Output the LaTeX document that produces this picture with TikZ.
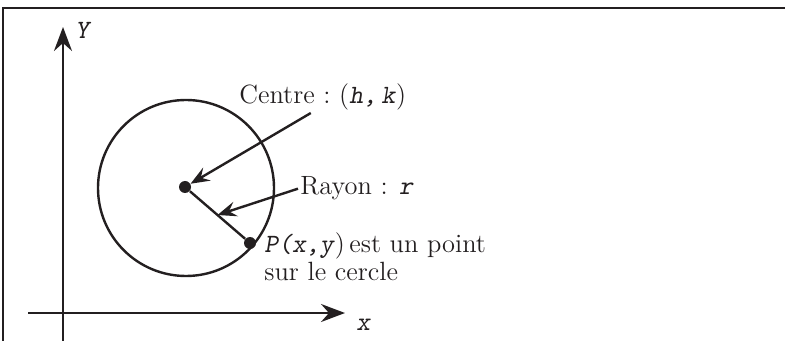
\documentclass[tikz,border=0pt]{standalone}
\usepackage{tikz}
\usetikzlibrary{arrows.meta, positioning, calc}
\definecolor{encre}{HTML}{231F20}
\newcommand{\mvar}[1]{\texttt{\textsl{#1}}}

\begin{document}
\begin{tikzpicture}[
  x=0.5pt, y=-0.5pt,
  trait/.style={line width=1.2pt, draw=encre},
  axe/.style={trait, -{Stealth[length=12pt, width=9pt, inset=4pt]}},
  fleche/.style={trait, -{Stealth[length=9.5pt, width=7.5pt, inset=3.5pt]}},
  point/.style={circle, fill=encre, inner sep=0pt, minimum size=6pt},
  etiq/.style={font=\fontsize{13.2}{13.5}\selectfont, text=encre, inner sep=1pt}
]
\useasboundingbox (0,0) rectangle (785,341);

% cadre
\draw[trait] (3,341) -- (3,8) -- (785,8);

% axes
\coordinate (ybas) at (63,341);
\coordinate (yhaut) at (63,27);
\coordinate (xgauche) at (28,313);
\coordinate (xdroite) at (345,313);
\draw[axe] (ybas) -- (yhaut);
\draw[axe] (xgauche) -- (xdroite);
\node[etiq, anchor=base west] (ly) at (73,39) {\mvar{Y}};
\node[etiq, anchor=base west] (lx) at (354,330) {\mvar{x}};

% cercle, centre et point P
\node[circle, trait, minimum size=88pt, inner sep=0pt] (cercle) at (186,188) {};
\node[point] (c) at (185,187) {};
\node[point] (P) at (250,243) {};
\draw[trait] (c) -- (P);
\coordinate (r) at ($(c)!0.5!(P)$);

% textes
\node[etiq, anchor=base west] (centre) at (237,104) {Centre :\ (\mvar{h,}\,\mvar{k})};
\node[etiq, anchor=base west] (rayon) at (298,195) {Rayon : \mvar{r}};
\node[etiq, anchor=base west, align=left] (ptP) at (262,280)
  {\mvar{P(x,y})\,est un point\\sur le cercle};

\draw[fleche] ([xshift=-6pt]centre.south) -- (c);
\draw[fleche] (rayon.west) -- (r);
\end{tikzpicture}
\end{document}
